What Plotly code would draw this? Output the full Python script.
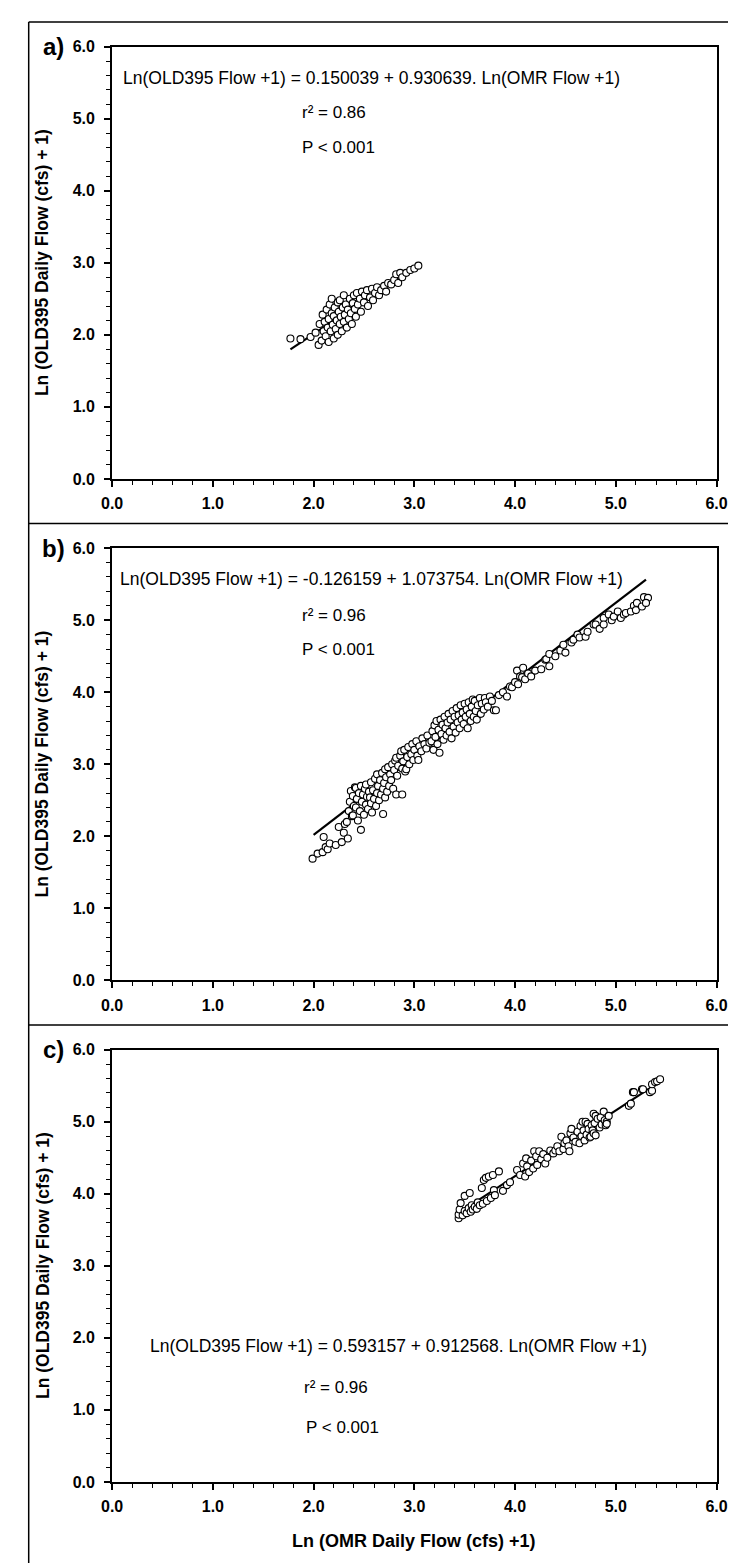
import plotly.graph_objects as go

W, H = 736, 1564

# ---------------- data ----------------
panel_labels = ["a)", "b)", "c)"]
tick_vals = [0, 1, 2, 3, 4, 5, 6]
tick_text = ["0.0", "1.0", "2.0", "3.0", "4.0", "5.0", "6.0"]
y_title = "Ln (OLD395 Daily Flow (cfs) + 1)"
x_title = "Ln (OMR Daily Flow (cfs) +1)"

eq_text = [
    "Ln(OLD395 Flow +1) = 0.150039 + 0.930639. Ln(OMR Flow +1)",
    "Ln(OLD395 Flow +1) = -0.126159 + 1.073754. Ln(OMR Flow +1)",
    "Ln(OLD395 Flow +1) = 0.593157 + 0.912568. Ln(OMR Flow +1)",
]
r2_text = ["r\u00b2 = 0.86", "r\u00b2 = 0.96", "r\u00b2 = 0.96"]
p_text = ["P < 0.001", "P < 0.001", "P < 0.001"]
intercepts = [0.150039, -0.126159, 0.593157]
slopes = [0.930639, 1.073754, 0.912568]
line_x_a = [1.77, 3.05]
line_x_b = [2.0, 5.3]
line_x_c = [3.45, 5.45]

a_x = [1.77, 1.87, 1.97, 2.02, 2.05, 2.06, 2.08, 2.09, 2.10, 2.11, 2.12, 2.13, 2.14, 2.15, 2.15, 2.16,
       2.17, 2.18, 2.18, 2.19, 2.20, 2.20, 2.21, 2.22, 2.23, 2.24, 2.24, 2.25, 2.26, 2.26, 2.27, 2.28,
       2.29, 2.30, 2.30, 2.31, 2.32, 2.33, 2.34, 2.35, 2.36, 2.37, 2.38, 2.39, 2.40, 2.41, 2.42, 2.43,
       2.44, 2.46, 2.47, 2.48, 2.50, 2.51, 2.53, 2.54, 2.56, 2.58, 2.59, 2.61, 2.63, 2.65, 2.67, 2.70,
       2.72, 2.74, 2.77, 2.80, 2.82, 2.84, 2.86, 2.88, 2.92, 2.96, 3.00, 3.04]
a_y = [1.95, 1.94, 1.97, 2.03, 1.86, 2.15, 1.92, 2.28, 2.05, 2.18, 1.98, 2.35, 2.10, 1.90, 2.22, 2.42,
       2.05, 2.50, 2.30, 2.14, 1.95, 2.26, 2.38, 2.08, 2.20, 2.45, 2.00, 2.32, 2.15, 2.48, 2.25, 2.05,
       2.38, 2.18, 2.55, 2.28, 2.42, 2.10, 2.35, 2.22, 2.50, 2.30, 2.15, 2.44, 2.55, 2.36, 2.25, 2.58,
       2.42, 2.50, 2.32, 2.60, 2.45, 2.55, 2.62, 2.40, 2.52, 2.64, 2.48, 2.58, 2.66, 2.55, 2.62, 2.68,
       2.60, 2.72, 2.70, 2.76, 2.84, 2.72, 2.86, 2.80, 2.86, 2.90, 2.92, 2.96]

b_x = [1.99, 2.04, 2.09, 2.10, 2.12, 2.14, 2.16, 2.22, 2.25, 2.28, 2.30, 2.31, 2.34,
       2.33, 2.35, 2.36, 2.37, 2.38, 2.39, 2.39, 2.40, 2.41, 2.42, 2.42, 2.43, 2.44, 2.45, 2.46, 2.47,
       2.47, 2.48, 2.49, 2.50, 2.51, 2.52, 2.52, 2.53, 2.54, 2.55, 2.56, 2.57, 2.57, 2.58, 2.59, 2.60,
       2.61, 2.62, 2.63, 2.63, 2.64, 2.65, 2.66, 2.67, 2.68, 2.69, 2.69, 2.70, 2.71, 2.71, 2.72, 2.73,
       2.74, 2.75, 2.76, 2.77, 2.78, 2.79,
       2.80, 2.81, 2.82, 2.82, 2.83, 2.84, 2.86, 2.87, 2.88, 2.88, 2.89, 2.90, 2.91, 2.92, 2.93, 2.94,
       2.95, 2.97, 2.98, 2.99, 3.00, 3.02, 3.03, 3.04, 3.05, 3.07, 3.08, 3.10, 3.12, 3.13, 3.15, 3.17,
       3.18, 3.19,
       3.20, 3.21, 3.22, 3.23, 3.24, 3.25, 3.26, 3.27, 3.28, 3.29, 3.30, 3.31, 3.32, 3.33, 3.34, 3.35,
       3.36, 3.37, 3.38, 3.39, 3.40, 3.41, 3.42, 3.43, 3.44, 3.45, 3.46, 3.47, 3.48, 3.49, 3.50, 3.51,
       3.52, 3.53, 3.54, 3.55, 3.56, 3.57, 3.58, 3.59, 3.60, 3.61, 3.62, 3.63, 3.65, 3.66, 3.67, 3.69,
       3.70, 3.71, 3.73, 3.75, 3.77, 3.79,
       3.81, 3.84, 3.88, 3.92, 3.95, 3.97, 4.00, 4.02, 4.03, 4.05, 4.07, 4.08, 4.10, 4.13, 4.16, 4.20,
       4.26, 4.30, 4.31, 4.34, 4.34, 4.40, 4.45,
       4.48, 4.50, 4.56, 4.58, 4.62, 4.64, 4.70, 4.72, 4.78, 4.80, 4.84, 4.88, 4.88, 4.93, 4.96, 4.98,
       5.02, 5.05, 5.08, 5.10, 5.15, 5.18, 5.20, 5.21, 5.26, 5.28, 5.32, 5.30]
b_y = [1.69, 1.76, 1.78, 1.99, 1.85, 1.82, 1.90, 1.88, 2.13, 1.92, 2.05, 2.17, 1.97,
       2.20, 2.35, 2.48, 2.63, 2.28, 2.56, 2.29, 2.42, 2.68, 2.40, 2.67, 2.52, 2.22, 2.60, 2.35, 2.09,
       2.70, 2.48, 2.58, 2.30, 2.66, 2.72, 2.44, 2.55, 2.38, 2.62, 2.54, 2.75, 2.46, 2.33, 2.64, 2.52,
       2.80, 2.42, 2.86, 2.60, 2.70, 2.50, 2.78, 2.58, 2.88, 2.31, 2.66, 2.74, 2.54, 2.93, 2.82, 2.62,
       2.96, 2.70, 2.86, 2.78, 3.00, 2.66,
       2.92, 3.05, 2.58, 3.09, 2.84, 2.98, 3.12, 3.18, 2.58, 2.94, 3.04, 3.20, 2.90, 2.93, 3.10, 3.24,
       3.00, 3.14, 3.28, 3.06, 3.20, 3.32, 3.12, 3.06, 3.25, 3.18, 3.36, 3.28, 3.22, 3.40, 3.30, 3.32,
       3.46, 3.20,
       3.54, 3.38, 3.60, 3.28, 3.48, 3.16, 3.62, 3.42, 3.55, 3.34, 3.66, 3.50, 3.40, 3.58, 3.70, 3.45,
       3.62, 3.36, 3.74, 3.52, 3.66, 3.44, 3.78, 3.58, 3.68, 3.50, 3.82, 3.62, 3.72, 3.56, 3.84, 3.66,
       3.76, 3.50, 3.86, 3.70, 3.60, 3.80, 3.90, 3.66, 3.88, 3.74, 3.62, 3.82, 3.92, 3.70, 3.84, 3.76,
       3.92, 3.86, 3.80, 3.94, 3.88, 3.75,
       3.75, 3.96, 4.00, 3.94, 4.08, 4.07, 4.14, 4.30, 4.11, 4.22, 4.21, 4.34, 4.18, 4.26, 4.22, 4.30,
       4.32, 4.45, 4.46, 4.36, 4.53, 4.50, 4.58,
       4.66, 4.55, 4.69, 4.73, 4.80, 4.76, 4.77, 4.84, 4.94, 4.94, 4.88, 5.03, 4.94, 5.08, 5.00, 5.05,
       5.12, 5.03, 5.08, 5.10, 5.12, 5.20, 5.14, 5.24, 5.19, 5.32, 5.31, 5.24]

c_x = [3.44, 3.44, 3.45, 3.46, 3.48, 3.50, 3.50, 3.52, 3.54, 3.55, 3.56, 3.57, 3.58, 3.60, 3.62, 3.63,
       3.65, 3.67, 3.68, 3.69, 3.71, 3.72, 3.74, 3.76, 3.78, 3.79, 3.80,
       3.84, 3.88, 3.92, 3.95, 4.02, 4.05, 4.08, 4.10, 4.11, 4.12, 4.14, 4.16, 4.18, 4.19, 4.21, 4.22,
       4.24, 4.26, 4.28, 4.30, 4.32, 4.35, 4.38, 4.40,
       4.42, 4.44, 4.46, 4.48, 4.49, 4.51, 4.53, 4.54, 4.55, 4.56, 4.58, 4.60, 4.62, 4.64, 4.65, 4.66,
       4.67, 4.68, 4.69, 4.70, 4.71, 4.72, 4.73, 4.74, 4.75, 4.76, 4.77, 4.78, 4.78, 4.79, 4.80, 4.80,
       4.82, 4.84, 4.85, 4.86, 4.88, 4.89, 4.90, 4.91, 4.91, 4.93,
       5.13, 5.15, 5.17, 5.18, 5.26, 5.27, 5.34, 5.36, 5.36, 5.39, 5.41, 5.44]
c_y = [3.66, 3.71, 3.78, 3.87, 3.70, 3.76, 3.97, 3.73, 3.80, 4.01, 3.75, 3.84, 3.78, 3.82, 3.79, 3.88,
       3.84, 4.08, 3.86, 4.19, 4.22, 3.90, 4.24, 3.94, 4.26, 4.05, 3.98,
       4.31, 4.04, 4.12, 4.16, 4.33, 4.26, 4.42, 4.24, 4.49, 4.38, 4.30, 4.46, 4.35, 4.59, 4.52, 4.40,
       4.59, 4.48, 4.55, 4.42, 4.50, 4.60, 4.56, 4.60,
       4.66, 4.59, 4.79, 4.62, 4.70, 4.74, 4.66, 4.59, 4.84, 4.90, 4.78, 4.72, 4.86, 4.70, 4.94, 4.80,
       5.00, 4.88, 4.74, 5.00, 4.82, 4.97, 4.90, 4.78, 4.79, 4.95, 4.88, 5.11, 4.84, 4.98, 5.08, 4.81,
       5.04, 4.92, 5.06, 4.96, 5.14, 5.02, 4.95, 5.00, 4.97, 5.08,
       5.22, 5.25, 5.41, 5.41, 5.45, 5.45, 5.41, 5.43, 5.52, 5.55, 5.56, 5.59]

pts_x = [a_x, b_x, c_x]
pts_y = [a_y, b_y, c_y]
line_xs = [line_x_a, line_x_b, line_x_c]

# text positions (data units)
eq_pos = [(2.57, 5.57), (2.57, 5.57), (2.84, 1.89)]
r2_pos = [(1.87, 5.09), (1.87, 5.07), (1.88, 1.31)]
p_pos = [(1.87, 4.60), (1.87, 4.60), (1.90, 0.75)]

# ---------------- layout (pixels) ----------------
plot_left, plot_right = 96, 719
plot_tops = [31, 538, 1045]
plot_h = 437
box_lines_y = [6, 513, 1020]
box_left = 10


def py(p):
    return 1 - p / H


def pxx(p):
    return p / W


FONT = "Liberation Sans, Arial, sans-serif"

fig = go.Figure()
layout = dict(
    width=W, height=H, margin=dict(l=0, r=0, t=0, b=0),
    paper_bgcolor="white", plot_bgcolor="white", showlegend=False,
    font=dict(family=FONT, color="black"),
)
annotations = []
shapes = []

for i in range(3):
    xa = "x" if i == 0 else f"x{i+1}"
    ya = "y" if i == 0 else f"y{i+1}"
    xkey = "xaxis" if i == 0 else f"xaxis{i+1}"
    ykey = "yaxis" if i == 0 else f"yaxis{i+1}"
    top = plot_tops[i]
    bot = top + plot_h
    common = dict(
        range=[0, 6], tickvals=tick_vals, ticktext=tick_text,
        showgrid=False, zeroline=False, showline=True, linecolor="black", linewidth=2,
        mirror=True, ticks="outside", ticklen=6, tickwidth=1.5, tickcolor="black",
        tickfont=dict(family=FONT, size=16, color="black", weight="bold"),
        minor=dict(dtick=0.2, ticks="outside", ticklen=4, tickwidth=1, tickcolor="black"),
        fixedrange=True,
    )
    layout[xkey] = dict(common, domain=[pxx(plot_left), pxx(plot_right)], anchor=ya,
                        ticklabelstandoff=3)
    layout[ykey] = dict(common, domain=[py(bot), py(top)], anchor=xa, ticklabelstandoff=6)

    lx = line_xs[i]
    ly = [intercepts[i] + slopes[i] * v for v in lx]
    fig.add_trace(go.Scatter(x=lx, y=ly, mode="lines", line=dict(color="black", width=2.2),
                             xaxis=xa, yaxis=ya, hoverinfo="skip"))
    fig.add_trace(go.Scatter(x=pts_x[i], y=pts_y[i], mode="markers",
                             marker=dict(symbol="circle", size=7, color="white",
                                         line=dict(color="black", width=1.1)),
                             xaxis=xa, yaxis=ya))

    annotations.append(dict(x=eq_pos[i][0], y=eq_pos[i][1], xref=xa, yref=ya, text=eq_text[i],
                            showarrow=False, xanchor="center", yanchor="middle",
                            font=dict(family=FONT, size=17.5, color="black")))
    annotations.append(dict(x=r2_pos[i][0], y=r2_pos[i][1], xref=xa, yref=ya, text=r2_text[i],
                            showarrow=False, xanchor="left", yanchor="middle",
                            font=dict(family=FONT, size=17, color="black")))
    annotations.append(dict(x=p_pos[i][0], y=p_pos[i][1], xref=xa, yref=ya, text=p_text[i],
                            showarrow=False, xanchor="left", yanchor="middle",
                            font=dict(family=FONT, size=17, color="black")))
    # panel letter
    annotations.append(dict(x=pxx(36), y=py(top), xref="paper", yref="paper", text=panel_labels[i],
                            showarrow=False, xanchor="center", yanchor="middle",
                            font=dict(family=FONT, size=24, color="black", weight="bold")))
    # y axis title
    annotations.append(dict(x=pxx(24), y=py(top + plot_h / 2), xref="paper", yref="paper",
                            text=y_title, textangle=-90,
                            showarrow=False, xanchor="center", yanchor="middle",
                            font=dict(family=FONT, size=17.5, color="black", weight="bold")))

# x-axis title on the bottom panel
annotations.append(dict(x=(pxx(plot_left) + pxx(plot_right)) / 2, y=py(1542), xref="paper", yref="paper",
                        text=x_title, showarrow=False,
                        xanchor="center", yanchor="middle",
                        font=dict(family=FONT, size=18, color="black", weight="bold")))

# outer panel frames
for yy in box_lines_y:
    shapes.append(dict(type="line", xref="paper", yref="paper", x0=pxx(box_left), x1=1.0,
                       y0=py(yy), y1=py(yy), line=dict(color="black", width=1.5)))
shapes.append(dict(type="line", xref="paper", yref="paper", x0=pxx(box_left), x1=pxx(box_left),
                   y0=py(box_lines_y[0]), y1=0, line=dict(color="black", width=1.5)))

layout["annotations"] = annotations
layout["shapes"] = shapes
fig.update_layout(**layout)
fig.write_html("out.html")
